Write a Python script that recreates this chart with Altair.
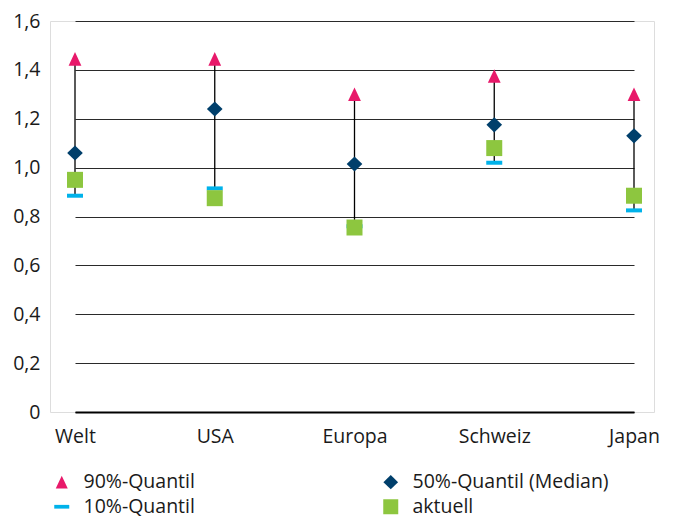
import altair as alt
import pandas as pd

categories = ["Welt", "USA", "Europa", "Schweiz", "Japan"]
q90 = [1.445, 1.445, 1.30, 1.375, 1.30]
q50 = [1.06, 1.24, 1.015, 1.175, 1.13]
q10 = [0.885, 0.915, 0.76, 1.02, 0.825]
aktuell = [0.95, 0.875, 0.755, 1.08, 0.885]

# legend is filled column by column: left column first
series_names = ["90%-Quantil", "10%-Quantil", "50%-Quantil (Median)", "aktuell"]
series_colors = ["#E8196A", "#00B2EA", "#003F6B", "#8DC63F"]
series_shapes = [
    "M0,-0.85L0.8,0.85L-0.8,0.85Z",
    "M-1,-0.25L1,-0.25L1,0.25L-1,0.25Z",
    "M0,-0.94L0.98,0L0,0.94L-0.98,0Z",
    "M-1,-1L1,-1L1,1L-1,1Z",
]

wide = pd.DataFrame({"Region": categories, "q90": q90, "q50": q50, "q10": q10, "aktuell": aktuell})

rows = []
for key, name in [("q10", "10%-Quantil"), ("aktuell", "aktuell"), ("q50", "50%-Quantil (Median)"), ("q90", "90%-Quantil")]:
    for c, v in zip(categories, wide[key]):
        rows.append({"Region": c, "Serie": name, "Wert": v})
long = pd.DataFrame(rows)

FONT = "Open Sans"
TXT = "#1a1a1a"
FS = 19.5

x_scale = alt.Scale(type="point", range=[25, 584], padding=0)
x_enc = alt.X("Region:N", sort=categories, scale=x_scale,
              axis=alt.Axis(title=None, labelAngle=0, ticks=False, tickSize=0, domain=True,
                            domainColor="#000000", domainWidth=2.2, grid=False,
                            labelPadding=15, labelFontSize=FS, labelFont=FONT, labelColor=TXT))
y_scale = alt.Scale(domain=[0, 1.6], nice=False)
y_axis = alt.Axis(title=None, values=[0, 0.2, 0.4, 0.6, 0.8, 1.0, 1.2, 1.4, 1.6],
                  labelExpr="datum.value == 0 ? '0' : replace(format(datum.value, '.1f'), '.', ',')",
                  domain=False, ticks=False, tickSize=0, grid=True, gridColor="#2a2a2a", gridWidth=1.1,
                  labelPadding=10, labelFontSize=FS, labelFont=FONT, labelColor=TXT)

rule = alt.Chart(wide).mark_rule(color="#000000", strokeWidth=1.3).encode(
    x=x_enc,
    y=alt.Y("q10:Q", scale=y_scale, axis=y_axis),
    y2="q90:Q",
)

points = alt.Chart(long).mark_point(filled=True, opacity=1, size=256, strokeWidth=0).encode(
    x=alt.X("Region:N", sort=categories, scale=x_scale),
    y=alt.Y("Wert:Q"),
    color=alt.Color("Serie:N", scale=alt.Scale(domain=series_names, range=series_colors),
                    legend=alt.Legend(title=None, orient="none", legendX=2, legendY=451,
                                      columns=2, columnPadding=186, rowPadding=4,
                                      symbolSize=225, symbolStrokeWidth=0, labelOffset=12,
                                      labelFontSize=FS, labelFont=FONT, labelColor=TXT,
                                      labelLimit=400)),
    shape=alt.Shape("Serie:N", scale=alt.Scale(domain=series_names, range=series_shapes)),
)

chart = alt.layer(rule, points).properties(
    width=604, height=391,
    padding={"left": 42, "top": 13, "right": 11, "bottom": 108},
    autosize=alt.AutoSizeParams(type="none"),
).configure_view(stroke=None).configure(font=FONT)

chart.save("out.html", embed_options={"renderer": "svg", "actions": False})
